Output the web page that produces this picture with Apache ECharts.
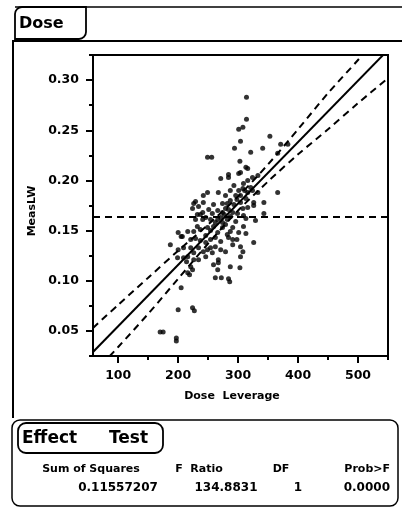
<!DOCTYPE html>
<html><head><meta charset="utf-8">
<script src="https://cdn.jsdelivr.net/npm/echarts@6/dist/echarts.min.js"></script>
<style>html,body{margin:0;padding:0;background:#fff}#c{width:402px;height:511px}</style>
</head><body><div id="c"></div>
<script>
const doseValues = [314,314,301,308,304,294,249,256,303,316,304,284,321,353,341,371,383,366,313,
271,284,301,293,301,316,321,249,242,267,226,224,274,282,287,304,313,241,241,257,266,274,279,291,299,308,316,
232,237,249,266,274,282,287,221,207,216,226,266,282,291,287,301,187,200,209,221,226,249,254,257,271,284,291,304,308,279,209,216,199,
309,324,333,308,316,324,333,366,326,326,343,343,329,309,313,309,313,326,304,
234,267,267,259,303,221,219,262,272,284,286,205,200,224,227,170,175,197,197,226,216,224,266,287,
229,232,234,229,237,229,237,246,254,259,262,271,277,284,293,298,304,311,246,254,262,274,279,296,259,251,246,254,234,242,214,246,296,287,279,291,298,262,271,242,200,205];
const measLWValues = [0.283,0.261,0.251,0.253,0.239,0.232,0.223,0.223,0.219,0.212,0.208,0.206,0.228,0.244,0.232,0.236,0.236,0.227,0.213,
0.202,0.203,0.207,0.195,0.190,0.200,0.193,0.188,0.185,0.188,0.177,0.172,0.177,0.177,0.180,0.178,0.182,0.168,0.161,0.167,0.170,0.168,0.172,0.168,0.167,0.172,0.173,
0.154,0.151,0.153,0.161,0.158,0.161,0.164,0.141,0.144,0.149,0.149,0.148,0.146,0.141,0.149,0.148,0.136,0.131,0.133,0.133,0.128,0.131,0.133,0.128,0.139,0.143,0.136,0.134,0.129,0.129,0.123,0.124,0.123,
0.197,0.203,0.205,0.192,0.188,0.190,0.188,0.188,0.178,0.175,0.178,0.167,0.160,0.165,0.162,0.154,0.147,0.138,0.124,
0.121,0.121,0.118,0.116,0.113,0.114,0.106,0.103,0.103,0.102,0.099,0.093,0.071,0.073,0.070,0.049,0.049,0.043,0.040,0.121,0.108,0.111,0.111,0.114,
0.161,0.166,0.174,0.179,0.166,0.142,0.140,0.145,0.150,0.154,0.158,0.163,0.166,0.171,0.176,0.181,0.185,0.190,0.138,0.141,0.143,0.153,0.156,0.159,0.176,0.171,0.163,0.161,0.133,0.129,0.119,0.124,0.185,0.190,0.185,0.153,0.141,0.134,0.131,0.178,0.148,0.144];
const xTickLabels = [100,200,300,400,500];
const xMinorTicks = [150,250,350,450,550];
const yTickLabels = [0.05,0.10,0.15,0.20,0.25,0.30];
const yMinorTicks = [0.025,0.075,0.125,0.175,0.225,0.275,0.325];
const fitDose = [58,550];
const fitMeasLW = [0.029,0.330];
const bandDose = [58,100,150,200,250,300,350,400,450,500,550];
const upperBand = [0.053,0.076,0.103,0.130,0.156,0.184,0.216,0.251,0.287,0.320,0.354];
const lowerBand = [0.007,0.034,0.067,0.102,0.137,0.170,0.199,0.226,0.251,0.277,0.302];
const meanMeasLW = 0.1636;
const meanDose = [58,550];
const tableHeaders = ['Sum of Squares','F  Ratio','DF','Prob>F'];
const tableValues = ['0.11557207','134.8831','1','0.0000'];

const F = 'DejaVu Sans';
const chart = echarts.init(document.getElementById('c'), null, {renderer:'canvas'});
const pts = doseValues.map((d,i)=>[d, measLWValues[i]]);
const dashStyle = {color:'#000', width:2, type:[7,5]};
const option = {
  animation:false,
  backgroundColor:'#fff',
  grid:{left:93,right:14,top:55,bottom:155,show:true,borderColor:'#000',borderWidth:2,backgroundColor:'transparent'},
  xAxis:[{type:'value',min:58,max:550,
    axisLine:{show:true,lineStyle:{color:'#000',width:2}},
    axisTick:{show:true,customValues:xTickLabels,length:7,inside:false,lineStyle:{color:'#000',width:2}},
    axisLabel:{customValues:xTickLabels,margin:13,color:'#000',fontFamily:F,fontWeight:'bold',fontSize:12.5},
    splitLine:{show:false}},
   {type:'value',min:58,max:550,position:'bottom',offset:0,
    axisLine:{show:false},
    axisTick:{show:true,customValues:xMinorTicks,length:4,lineStyle:{color:'#000',width:2}},
    axisLabel:{show:false},splitLine:{show:false}}],
  yAxis:[{type:'value',min:0.025,max:0.325,
    axisLine:{show:true,lineStyle:{color:'#000',width:2}},
    axisTick:{show:true,customValues:yTickLabels,length:7,lineStyle:{color:'#000',width:2}},
    axisLabel:{customValues:yTickLabels,margin:14,color:'#000',fontFamily:F,fontWeight:'bold',fontSize:12.5,
      formatter:v=>v.toFixed(2)},
    splitLine:{show:false}},
   {type:'value',min:0.025,max:0.325,position:'left',offset:0,
    axisLine:{show:false},
    axisTick:{show:true,customValues:yMinorTicks,length:4,lineStyle:{color:'#000',width:2}},
    axisLabel:{show:false},splitLine:{show:false}}],
  series:[
    {type:'line',data:meanDose.map(d=>[d,meanMeasLW]),symbol:'none',lineStyle:dashStyle,silent:true,clip:true},
    {type:'line',data:bandDose.map((d,i)=>[d,upperBand[i]]),symbol:'none',lineStyle:dashStyle,clip:true,smooth:0.3},
    {type:'line',data:bandDose.map((d,i)=>[d,lowerBand[i]]),symbol:'none',lineStyle:dashStyle,clip:true,smooth:0.3},
    {type:'line',data:fitDose.map((d,i)=>[d,fitMeasLW[i]]),symbol:'none',lineStyle:{color:'#000',width:2},clip:true},
    {type:'scatter',data:pts,symbol:'circle',symbolSize:5,itemStyle:{color:'#000'},clip:true}
  ],
  graphic:[
    {type:'line',shape:{x1:15,y1:7,x2:402,y2:7},style:{stroke:'#000',lineWidth:1.5}},
    {type:'rect',shape:{x:15,y:7,width:71,height:32,r:[7,0,7,0]},style:{fill:'#fff',stroke:'#000',lineWidth:1.8}},
    {type:'text',style:{x:19,y:24,text:'Dose',font:'bold 16px "DejaVu Sans"',fill:'#000',verticalAlign:'middle'}},
    {type:'line',shape:{x1:12,y1:41,x2:402,y2:41},style:{stroke:'#000',lineWidth:2}},
    {type:'line',shape:{x1:13,y1:41,x2:13,y2:418},style:{stroke:'#000',lineWidth:2}},
    {type:'text',rotation:Math.PI/2,x:32,y:211,style:{x:0,y:0,text:'MeasLW',font:'bold 11px "DejaVu Sans"',fill:'#000',align:'center',verticalAlign:'middle'}},
    {type:'text',style:{x:232,y:396,text:'Dose  Leverage',font:'bold 11px "DejaVu Sans"',fill:'#000',align:'center',verticalAlign:'middle'}},
    {type:'rect',shape:{x:12,y:420,width:386,height:86,r:8},style:{fill:'none',stroke:'#000',lineWidth:1.5}},
    {type:'rect',shape:{x:18,y:423,width:145,height:30,r:8},style:{fill:'#fff',stroke:'#000',lineWidth:1.8}},
    {type:'text',style:{x:22,y:439,text:'Effect',font:'bold 17px "DejaVu Sans"',fill:'#000',verticalAlign:'middle'}},
    {type:'text',style:{x:109,y:439,text:'Test',font:'bold 17px "DejaVu Sans"',fill:'#000',verticalAlign:'middle'}},
    {type:'text',style:{x:91,y:469,text:tableHeaders[0],font:'bold 11px "DejaVu Sans"',fill:'#000',align:'center',verticalAlign:'middle'}},
    {type:'text',style:{x:199,y:469,text:tableHeaders[1],font:'bold 11px "DejaVu Sans"',fill:'#000',align:'center',verticalAlign:'middle'}},
    {type:'text',style:{x:281,y:469,text:tableHeaders[2],font:'bold 11px "DejaVu Sans"',fill:'#000',align:'center',verticalAlign:'middle'}},
    {type:'text',style:{x:390,y:469,text:tableHeaders[3],font:'bold 11px "DejaVu Sans"',fill:'#000',align:'right',verticalAlign:'middle'}},
    {type:'text',style:{x:118,y:488,text:tableValues[0],font:'bold 12px "DejaVu Sans"',fill:'#000',align:'center',verticalAlign:'middle'}},
    {type:'text',style:{x:226,y:488,text:tableValues[1],font:'bold 12px "DejaVu Sans"',fill:'#000',align:'center',verticalAlign:'middle'}},
    {type:'text',style:{x:298,y:488,text:tableValues[2],font:'bold 12px "DejaVu Sans"',fill:'#000',align:'center',verticalAlign:'middle'}},
    {type:'text',style:{x:390,y:488,text:tableValues[3],font:'bold 12px "DejaVu Sans"',fill:'#000',align:'right',verticalAlign:'middle'}}
  ]
};
chart.setOption(option);
</script></body></html>
